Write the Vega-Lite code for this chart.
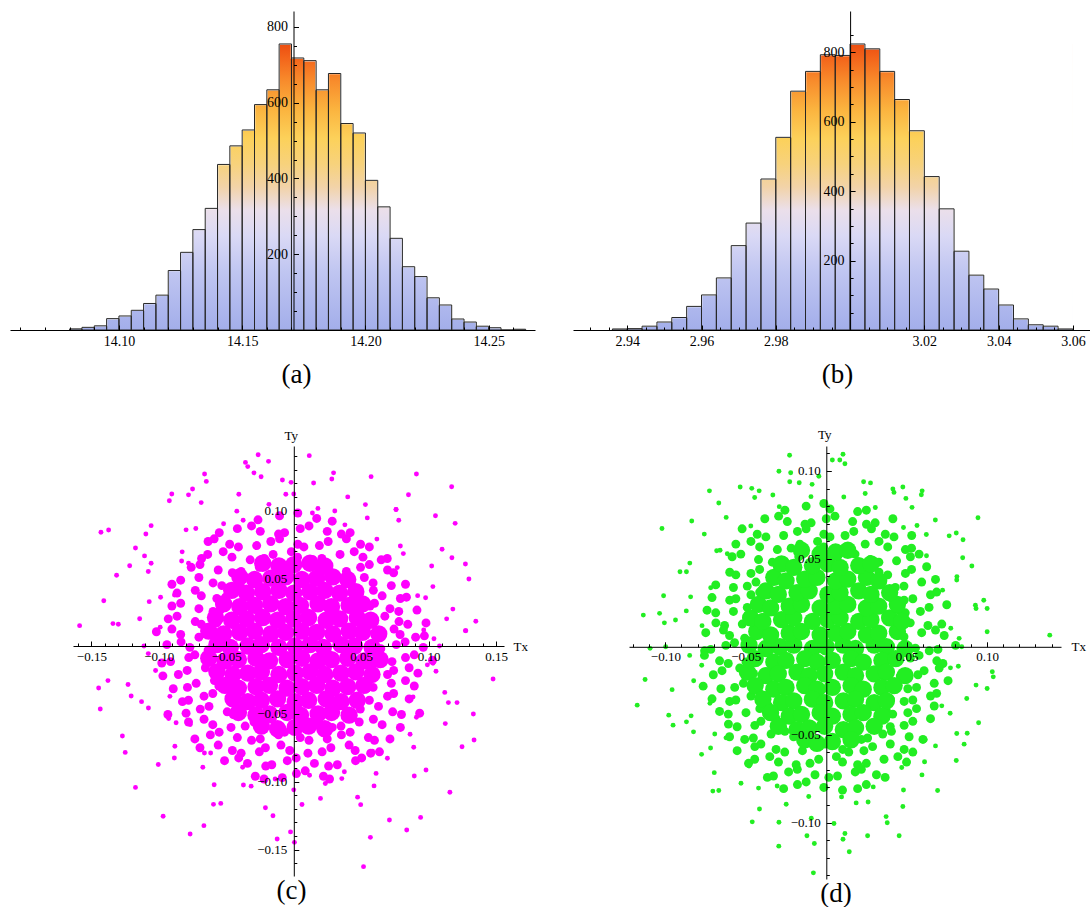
{
"$schema":"https://vega.github.io/schema/vega-lite/v6.json",
"background":"white",
"padding":{"left":10,"top":10,"right":0,"bottom":0},
"autosize":{"type":"pad"},
"config":{"view":{"stroke":null},
"axis":{"grid":false,"labelFont":"Liberation Serif","labelColor":"#000","domainColor":"#000","tickColor":"#000","domainWidth":1,"tickWidth":1,"titleFont":"Liberation Serif","titleFontWeight":"normal","titleColor":"#000","labelFlush":false,"labelOverlap":false},
"title":{"font":"Liberation Serif","fontSize":27,"fontWeight":"normal","color":"#000"}},
"datasets":{
"ha":[{"lo":14.08,"hi":14.085,"count":3},{"lo":14.085,"hi":14.09,"count":7},{"lo":14.09,"hi":14.095,"count":11},{"lo":14.095,"hi":14.1,"count":30},{"lo":14.1,"hi":14.105,"count":37},{"lo":14.105,"hi":14.11,"count":52},{"lo":14.11,"hi":14.115,"count":70},{"lo":14.115,"hi":14.12,"count":92},{"lo":14.12,"hi":14.125,"count":157},{"lo":14.125,"hi":14.13,"count":205},{"lo":14.13,"hi":14.135,"count":265},{"lo":14.135,"hi":14.14,"count":321},{"lo":14.14,"hi":14.145,"count":437},{"lo":14.145,"hi":14.15,"count":486},{"lo":14.15,"hi":14.155,"count":528},{"lo":14.155,"hi":14.16,"count":595},{"lo":14.16,"hi":14.165,"count":634},{"lo":14.165,"hi":14.17,"count":755},{"lo":14.17,"hi":14.175,"count":718},{"lo":14.175,"hi":14.18,"count":711},{"lo":14.18,"hi":14.185,"count":634},{"lo":14.185,"hi":14.19,"count":677},{"lo":14.19,"hi":14.195,"count":545},{"lo":14.195,"hi":14.2,"count":520},{"lo":14.2,"hi":14.205,"count":395},{"lo":14.205,"hi":14.21,"count":325},{"lo":14.21,"hi":14.215,"count":242},{"lo":14.215,"hi":14.22,"count":167},{"lo":14.22,"hi":14.225,"count":141},{"lo":14.225,"hi":14.23,"count":85},{"lo":14.23,"hi":14.235,"count":66},{"lo":14.235,"hi":14.24,"count":29},{"lo":14.24,"hi":14.245,"count":21},{"lo":14.245,"hi":14.25,"count":10},{"lo":14.25,"hi":14.255,"count":6},{"lo":14.255,"hi":14.26,"count":0},{"lo":14.26,"hi":14.265,"count":2}],
"hb":[{"lo":2.936,"hi":2.94,"count":3},{"lo":2.94,"hi":2.944,"count":4},{"lo":2.944,"hi":2.948,"count":11},{"lo":2.948,"hi":2.952,"count":23},{"lo":2.952,"hi":2.956,"count":36},{"lo":2.956,"hi":2.96,"count":68},{"lo":2.96,"hi":2.964,"count":101},{"lo":2.964,"hi":2.968,"count":150},{"lo":2.968,"hi":2.972,"count":243},{"lo":2.972,"hi":2.976,"count":308},{"lo":2.976,"hi":2.98,"count":435},{"lo":2.98,"hi":2.984,"count":555},{"lo":2.984,"hi":2.988,"count":688},{"lo":2.988,"hi":2.992,"count":745},{"lo":2.992,"hi":2.996,"count":793},{"lo":2.996,"hi":3.0,"count":791},{"lo":3.0,"hi":3.004,"count":824},{"lo":3.004,"hi":3.008,"count":810},{"lo":3.008,"hi":3.012,"count":745},{"lo":3.012,"hi":3.016,"count":664},{"lo":3.016,"hi":3.02,"count":574},{"lo":3.02,"hi":3.024,"count":442},{"lo":3.024,"hi":3.028,"count":349},{"lo":3.028,"hi":3.032,"count":227},{"lo":3.032,"hi":3.036,"count":158},{"lo":3.036,"hi":3.04,"count":118},{"lo":3.04,"hi":3.044,"count":72},{"lo":3.044,"hi":3.048,"count":32},{"lo":3.048,"hi":3.052,"count":15},{"lo":3.052,"hi":3.056,"count":11},{"lo":3.056,"hi":3.06,"count":3}],
"cc":[{"x":-0.023,"y":0.061},{"x":-0.011,"y":0.059},{"x":0,"y":0.06},{"x":0.012,"y":0.061},{"x":0.023,"y":0.059},
{"x":-0.04,"y":0.051},{"x":-0.029,"y":0.049},{"x":-0.017,"y":0.05},{"x":-0.006,"y":0.051},{"x":0.006,"y":0.049},{"x":0.017,"y":0.05},{"x":0.029,"y":0.051},{"x":0.04,"y":0.049},
{"x":-0.046,"y":0.041},{"x":-0.035,"y":0.039},{"x":-0.023,"y":0.04},{"x":-0.011,"y":0.041},{"x":0,"y":0.039},{"x":0.012,"y":0.04},{"x":0.023,"y":0.041},{"x":0.034,"y":0.039},{"x":0.046,"y":0.04},
{"x":-0.052,"y":0.031},{"x":-0.04,"y":0.029},{"x":-0.029,"y":0.03},{"x":-0.017,"y":0.031},{"x":-0.006,"y":0.029},{"x":0.005,"y":0.03},{"x":0.018,"y":0.031},{"x":0.028,"y":0.029},{"x":0.041,"y":0.03},{"x":0.051,"y":0.031},
{"x":-0.058,"y":0.021},{"x":-0.046,"y":0.019},{"x":-0.035,"y":0.02},{"x":-0.023,"y":0.021},{"x":-0.012,"y":0.019},{"x":0,"y":0.02},{"x":0.011,"y":0.021},{"x":0.024,"y":0.019},{"x":0.034,"y":0.02},{"x":0.047,"y":0.021},{"x":0.057,"y":0.019},
{"x":-0.063,"y":0.011},{"x":-0.052,"y":0.009},{"x":-0.04,"y":0.01},{"x":-0.029,"y":0.011},{"x":-0.017,"y":0.009},{"x":-0.006,"y":0.01},{"x":0.006,"y":0.011},{"x":0.017,"y":0.01},{"x":0.029,"y":0.009},{"x":0.041,"y":0.011},{"x":0.051,"y":0.01},{"x":0.063,"y":0.009},
{"x":-0.057,"y":0.001},{"x":-0.047,"y":-0.001},{"x":-0.034,"y":0},{"x":-0.024,"y":0.001},{"x":-0.011,"y":-0.001},{"x":0.001,"y":0},{"x":0.012,"y":0.001},{"x":0.022,"y":-0.001},{"x":0.035,"y":0.001},{"x":0.045,"y":0},{"x":0.058,"y":-0.001},
{"x":-0.063,"y":-0.009},{"x":-0.051,"y":-0.011},{"x":-0.041,"y":-0.01},{"x":-0.028,"y":-0.009},{"x":-0.018,"y":-0.011},{"x":-0.005,"y":-0.01},{"x":0.006,"y":-0.009},{"x":0.018,"y":-0.011},{"x":0.028,"y":-0.01},{"x":0.04,"y":-0.009},{"x":0.052,"y":-0.011},{"x":0.064,"y":-0.01},
{"x":-0.057,"y":-0.019},{"x":-0.045,"y":-0.021},{"x":-0.034,"y":-0.02},{"x":-0.024,"y":-0.019},{"x":-0.011,"y":-0.021},{"x":0.001,"y":-0.02},{"x":0.012,"y":-0.019},{"x":0.023,"y":-0.021},{"x":0.035,"y":-0.02},{"x":0.046,"y":-0.019},{"x":0.058,"y":-0.021},
{"x":-0.051,"y":-0.029},{"x":-0.041,"y":-0.031},{"x":-0.028,"y":-0.03},{"x":-0.018,"y":-0.029},{"x":-0.005,"y":-0.031},{"x":0.006,"y":-0.03},{"x":0.017,"y":-0.029},{"x":0.029,"y":-0.031},{"x":0.04,"y":-0.03},{"x":0.052,"y":-0.029},
{"x":-0.045,"y":-0.039},{"x":-0.034,"y":-0.041},{"x":-0.024,"y":-0.04},{"x":-0.012,"y":-0.039},{"x":0.001,"y":-0.041},{"x":0.011,"y":-0.04},{"x":0.024,"y":-0.039},{"x":0.035,"y":-0.041},{"x":0.047,"y":-0.04},
{"x":-0.041,"y":-0.049},{"x":-0.028,"y":-0.051},{"x":-0.018,"y":-0.05},{"x":-0.005,"y":-0.049},{"x":0.005,"y":-0.051},{"x":0.018,"y":-0.05},{"x":0.028,"y":-0.049},{"x":0.041,"y":-0.051},
{"x":-0.024,"y":-0.059},{"x":-0.012,"y":-0.061},{"x":0.001,"y":-0.06},{"x":0.011,"y":-0.059},{"x":0.023,"y":-0.061}],
"cm":[{"x":-0.0265,"y":0.093},{"x":-0.0105,"y":0.096},{"x":0.003,"y":0.098},{"x":0.017,"y":0.094},{"x":0.0285,"y":0.092},
{"x":-0.0552,"y":0.0835},{"x":-0.0418,"y":0.0865},{"x":-0.0313,"y":0.0885},{"x":-0.0248,"y":0.0845},{"x":-0.0113,"y":0.0825},{"x":-0.0068,"y":0.0835},{"x":0.0048,"y":0.0865},{"x":0.0113,"y":0.0885},{"x":0.0248,"y":0.0845},{"x":0.0353,"y":0.0825},{"x":0.0418,"y":0.0835},
{"x":-0.0635,"y":0.077},{"x":-0.059,"y":0.079},{"x":-0.0475,"y":0.075},{"x":-0.041,"y":0.073},{"x":-0.0275,"y":0.074},{"x":-0.017,"y":0.077},{"x":-0.0105,"y":0.079},{"x":0.003,"y":0.075},{"x":0.0075,"y":0.073},{"x":0.019,"y":0.074},{"x":0.0255,"y":0.077},{"x":0.039,"y":0.079},{"x":0.0495,"y":0.075},{"x":0.056,"y":0.073},
{"x":-0.0683,"y":0.0645},{"x":-0.0638,"y":0.0675},{"x":-0.0523,"y":0.0695},{"x":-0.0458,"y":0.0655},{"x":-0.0323,"y":0.0635},{"x":-0.0218,"y":0.0645},{"x":-0.0153,"y":0.0675},{"x":-0.0018,"y":0.0695},{"x":0.0028,"y":0.0655},{"x":0.0143,"y":0.0635},{"x":0.0208,"y":0.0645},{"x":0.0343,"y":0.0675},{"x":0.0448,"y":0.0695},{"x":0.0513,"y":0.0655},{"x":0.0648,"y":0.0635},{"x":0.0693,"y":0.0645},
{"x":-0.076,"y":0.058},{"x":-0.0695,"y":0.06},{"x":-0.056,"y":0.056},{"x":-0.0455,"y":0.054},{"x":-0.039,"y":0.055},{"x":-0.0255,"y":0.058},{"x":-0.021,"y":0.06},{"x":0.019,"y":0.056},{"x":0.0255,"y":0.054},{"x":0.039,"y":0.055},{"x":0.0495,"y":0.058},{"x":0.056,"y":0.06},{"x":0.0695,"y":0.056},{"x":0.074,"y":0.054},
{"x":-0.0903,"y":0.0455},{"x":-0.0838,"y":0.0485},{"x":-0.0703,"y":0.0505},{"x":-0.0598,"y":0.0465},{"x":-0.0533,"y":0.0445},{"x":-0.0398,"y":0.0455},{"x":0.0408,"y":0.0485},{"x":0.0523,"y":0.0505},{"x":0.0588,"y":0.0465},{"x":0.0723,"y":0.0445},{"x":0.0828,"y":0.0455},
{"x":-0.0865,"y":0.039},{"x":-0.073,"y":0.041},{"x":-0.0685,"y":0.037},{"x":-0.057,"y":0.035},{"x":-0.0505,"y":0.036},{"x":0.0485,"y":0.039},{"x":0.059,"y":0.041},{"x":0.0655,"y":0.037},{"x":0.079,"y":0.035},{"x":0.0835,"y":0.036},
{"x":-0.0903,"y":0.0295},{"x":-0.0838,"y":0.0315},{"x":-0.0703,"y":0.0275},{"x":-0.0598,"y":0.0255},{"x":-0.0545,"y":0.0265},{"x":0.0565,"y":0.0295},{"x":0.0598,"y":0.0315},{"x":0.0713,"y":0.0275},{"x":0.0778,"y":0.0255},{"x":0.0913,"y":0.0265},
{"x":-0.093,"y":0.02},{"x":-0.0865,"y":0.022},{"x":-0.073,"y":0.018},{"x":-0.0685,"y":0.016},{"x":-0.057,"y":0.017},{"x":0.054,"y":0.02},{"x":0.0675,"y":0.022},{"x":0.078,"y":0.018},{"x":0.0845,"y":0.016},{"x":0.098,"y":0.017},
{"x":-0.1018,"y":0.0105},{"x":-0.0903,"y":0.0125},{"x":-0.0838,"y":0.0085},{"x":-0.0703,"y":0.0065},{"x":-0.0598,"y":0.0075},{"x":0.0608,"y":0.0105},{"x":0.0743,"y":0.0125},{"x":0.0788,"y":0.0085},{"x":0.0903,"y":0.0065},{"x":0.0968,"y":0.0075},
{"x":-0.094,"y":0.001},{"x":-0.0835,"y":0.003},{"x":-0.077,"y":-0.001},{"x":-0.0635,"y":-0.003},{"x":0.0645,"y":-0.002},{"x":0.076,"y":0.001},{"x":0.0825,"y":0.003},{"x":0.096,"y":-0.001},
{"x":-0.0978,"y":-0.0125},{"x":-0.0913,"y":-0.0115},{"x":-0.0778,"y":-0.0085},{"x":-0.0733,"y":-0.0065},{"x":-0.0618,"y":-0.0105},{"x":0.0588,"y":-0.0125},{"x":0.0728,"y":-0.0115},{"x":0.0828,"y":-0.0085},{"x":0.0893,"y":-0.0065},{"x":0.1028,"y":-0.0105},
{"x":-0.097,"y":-0.022},{"x":-0.0855,"y":-0.021},{"x":-0.079,"y":-0.018},{"x":-0.0655,"y":-0.016},{"x":-0.055,"y":-0.02},{"x":0.056,"y":-0.022},{"x":0.0695,"y":-0.021},{"x":0.074,"y":-0.018},{"x":0.0855,"y":-0.016},{"x":0.092,"y":-0.02},
{"x":-0.0893,"y":-0.0315},{"x":-0.0788,"y":-0.0305},{"x":-0.0723,"y":-0.0275},{"x":-0.0588,"y":-0.0255},{"x":-0.0555,"y":-0.0295},{"x":0.0535,"y":-0.0315},{"x":0.0588,"y":-0.0305},{"x":0.0723,"y":-0.0275},{"x":0.0828,"y":-0.0255},{"x":0.0893,"y":-0.0295},
{"x":-0.0825,"y":-0.041},{"x":-0.078,"y":-0.04},{"x":-0.0665,"y":-0.037},{"x":-0.06,"y":-0.035},{"x":-0.0465,"y":-0.039},{"x":0.0495,"y":-0.041},{"x":0.056,"y":-0.04},{"x":0.0695,"y":-0.037},{"x":0.074,"y":-0.035},{"x":0.0855,"y":-0.039},
{"x":-0.0933,"y":-0.0505},{"x":-0.0798,"y":-0.0495},{"x":-0.0693,"y":-0.0465},{"x":-0.0628,"y":-0.0445},{"x":-0.0493,"y":-0.0485},{"x":-0.0448,"y":-0.0505},{"x":0.0428,"y":-0.0495},{"x":0.0493,"y":-0.0465},{"x":0.0628,"y":-0.0445},{"x":0.0733,"y":-0.0485},{"x":0.0798,"y":-0.0505},{"x":0.0933,"y":-0.0495},
{"x":-0.078,"y":-0.056},{"x":-0.0665,"y":-0.054},{"x":-0.06,"y":-0.058},{"x":-0.0465,"y":-0.06},{"x":-0.036,"y":-0.059},{"x":-0.0295,"y":-0.056},{"x":-0.016,"y":-0.054},{"x":0.017,"y":-0.058},{"x":0.0285,"y":-0.06},{"x":0.035,"y":-0.059},{"x":0.0485,"y":-0.056},{"x":0.059,"y":-0.054},{"x":0.0655,"y":-0.058},{"x":0.079,"y":-0.06},
{"x":-0.0733,"y":-0.0685},{"x":-0.0618,"y":-0.0655},{"x":-0.0553,"y":-0.0635},{"x":-0.0418,"y":-0.0675},{"x":-0.0313,"y":-0.0695},{"x":-0.0248,"y":-0.0685},{"x":-0.0113,"y":-0.0655},{"x":-0.0068,"y":-0.0635},{"x":0.0048,"y":-0.0675},{"x":0.0113,"y":-0.0695},{"x":0.0248,"y":-0.0685},{"x":0.0353,"y":-0.0655},{"x":0.0418,"y":-0.0635},{"x":0.0553,"y":-0.0675},{"x":0.0598,"y":-0.0695},{"x":0.0713,"y":-0.0685},
{"x":-0.0695,"y":-0.075},{"x":-0.056,"y":-0.073},{"x":-0.0455,"y":-0.077},{"x":-0.039,"y":-0.079},{"x":-0.0255,"y":-0.078},{"x":-0.021,"y":-0.075},{"x":-0.0095,"y":-0.073},{"x":-0.003,"y":-0.077},{"x":0.0105,"y":-0.079},{"x":0.021,"y":-0.078},{"x":0.0275,"y":-0.075},{"x":0.041,"y":-0.073},{"x":0.0455,"y":-0.077},{"x":0.057,"y":-0.079},{"x":0.0635,"y":-0.078},
{"x":-0.0513,"y":-0.0845},{"x":-0.0408,"y":-0.0825},{"x":-0.0343,"y":-0.0865},{"x":-0.0208,"y":-0.0885},{"x":-0.0163,"y":-0.0875},{"x":-0.0048,"y":-0.0845},{"x":0.0018,"y":-0.0825},{"x":0.0153,"y":-0.0865},{"x":0.0258,"y":-0.0885},{"x":0.0323,"y":-0.0875},{"x":0.0458,"y":-0.0845},{"x":0.0503,"y":-0.0825},
{"x":-0.0285,"y":-0.096},{"x":-0.022,"y":-0.098},{"x":-0.0085,"y":-0.097},{"x":0.002,"y":-0.094},{"x":0.0085,"y":-0.092},{"x":0.022,"y":-0.096},{"x":0.0265,"y":-0.098}],
"co":[{"x":-0.1587,"y":0.015},{"x":-0.1429,"y":0.0838},{"x":-0.1372,"y":0.0855},{"x":-0.1408,"y":0.0334},{"x":-0.1313,"y":0.0521},{"x":-0.1446,"y":-0.031},{"x":-0.1434,"y":-0.0464},{"x":-0.1377,"y":-0.0255},{"x":-0.127,"y":-0.0663},{"x":-0.1249,"y":-0.0784},{"x":-0.1173,"y":-0.1042},{"x":-0.0968,"y":-0.1255},{"x":-0.0768,"y":-0.1385},{"x":-0.0666,"y":-0.1324},{"x":-0.0123,"y":-0.1422},{"x":0.0005,"y":-0.1447},{"x":0.0517,"y":-0.1626},{"x":0.0568,"y":-0.141},{"x":0.0709,"y":-0.1282},{"x":0.0837,"y":-0.1356},{"x":0.094,"y":-0.1263},{"x":0.1157,"y":-0.1078},{"x":0.1247,"y":-0.0742},{"x":0.1336,"y":-0.0693},{"x":0.1331,"y":-0.0501},{"x":0.1477,"y":-0.0243},{"x":0.1349,"y":0.0182},{"x":0.1272,"y":0.0113},{"x":0.1298,"y":0.0494},{"x":0.1272,"y":0.0604},{"x":0.1196,"y":0.0904},{"x":0.117,"y":0.1174},{"x":0.105,"y":0.096},{"x":0.0909,"y":0.1268},{"x":0.085,"y":0.1115},{"x":0.0573,"y":0.1248},{"x":0.0282,"y":0.1231},{"x":0.0115,"y":0.1403},{"x":-0.0264,"y":0.141},{"x":-0.0187,"y":0.1361},{"x":-0.0358,"y":0.1353},{"x":-0.0341,"y":0.1322},{"x":-0.0661,"y":0.1268},{"x":-0.0648,"y":0.1213},{"x":-0.0904,"y":0.112},{"x":-0.075,"y":0.1157},{"x":-0.1096,"y":0.0825},{"x":-0.1173,"y":0.0722},{"x":-0.1216,"y":0.0592},{"x":-0.1057,"y":0.0887},{"x":-0.0922,"y":0.1071},{"x":-0.0084,"y":0.1223},{"x":-0.002,"y":0.1206},
{"x":0.108,"y":0},{"x":0.1133,"y":0.02},{"x":0.0977,"y":0.0356},{"x":0.1022,"y":0.059},{"x":0.0812,"y":0.0681},{"x":0.0778,"y":0.0927},{"x":0.0545,"y":0.0944},{"x":0.04,"y":0.1099},{"x":0.0179,"y":0.1014},{"x":0,"y":0.112},{"x":-0.0184,"y":0.1044},{"x":-0.0407,"y":0.1118},{"x":-0.052,"y":0.0901},{"x":-0.0726,"y":0.0866},{"x":-0.0827,"y":0.0694},{"x":-0.1057,"y":0.061},{"x":-0.0987,"y":0.0359},{"x":-0.1142,"y":0.0201},{"x":-0.111,"y":0},{"x":-0.1024,"y":-0.0181},{"x":-0.1128,"y":-0.041},{"x":-0.0927,"y":-0.0535},{"x":-0.0881,"y":-0.0739},{"x":-0.0662,"y":-0.0789},{"x":-0.059,"y":-0.1022},{"x":-0.0373,"y":-0.1024},{"x":-0.021,"y":-0.1192},{"x":0,"y":-0.106},{"x":0.0198,"y":-0.1123},{"x":0.0356,"y":-0.0977},{"x":0.0595,"y":-0.1031},{"x":0.0694,"y":-0.0827},{"x":0.0889,"y":-0.0746},{"x":0.0909,"y":-0.0525},{"x":0.1146,"y":-0.0417},{"x":0.1054,"y":-0.0186},
{"x":0.1275,"y":0.0112},{"x":0.1172,"y":0.065},{"x":0.0758,"y":0.1006},{"x":0.0295,"y":0.1276},{"x":-0.0242,"y":0.1247},{"x":-0.078,"y":0.1114},{"x":-0.1106,"y":0.0664},{"x":-0.134,"y":0.0165},{"x":-0.1205,"y":-0.0368},{"x":-0.1004,"y":-0.0873},{"x":-0.0541,"y":-0.116},{"x":-0.0024,"y":-0.137},{"x":0.0496,"y":-0.1169},{"x":0.098,"y":-0.0914},{"x":0.121,"y":-0.0417},
{"x":0.0963,"y":0.0118},{"x":0.0918,"y":0.0371},{"x":0.0767,"y":0.0578},{"x":0.0616,"y":0.0788},{"x":0.0379,"y":0.0893},{"x":0.0138,"y":0.098},{"x":-0.0117,"y":0.0953},{"x":-0.0375,"y":0.0927},{"x":-0.0584,"y":0.0775},{"x":-0.078,"y":0.061},{"x":-0.0884,"y":0.0375},{"x":-0.099,"y":0.0139},{"x":-0.0963,"y":-0.0118},{"x":-0.0918,"y":-0.0371},{"x":-0.0767,"y":-0.0578},{"x":-0.0616,"y":-0.0788},{"x":-0.0379,"y":-0.0893},{"x":-0.0138,"y":-0.098},{"x":0.0117,"y":-0.0953},{"x":0.0375,"y":-0.0927},{"x":0.0584,"y":-0.0775},{"x":0.078,"y":-0.061},{"x":0.0884,"y":-0.0375},{"x":0.099,"y":-0.0139},
{"x":0.1039,"y":0.0054},{"x":0.1179,"y":0.0272},{"x":0.1031,"y":0.0438},{"x":0.1099,"y":0.0713},{"x":0.079,"y":0.0737},{"x":0.0758,"y":0.1006},{"x":0.0531,"y":0.1042},{"x":0.0304,"y":0.0995},{"x":0.0147,"y":0.1201},{"x":-0.0059,"y":0.1118},{"x":-0.0295,"y":0.1276},{"x":-0.0422,"y":0.0994},{"x":-0.0686,"y":0.1057},{"x":-0.0798,"y":0.0856},{"x":-0.0831,"y":0.0626},{"x":-0.1078,"y":0.0549},{"x":-0.1071,"y":0.0327},{"x":-0.13,"y":0.016},{"x":-0.1078,"y":-0.0056},{"x":-0.1228,"y":-0.0284},{"x":-0.1077,"y":-0.0457},{"x":-0.0872,"y":-0.0566},{"x":-0.0885,"y":-0.0825},{"x":-0.0674,"y":-0.0894},{"x":-0.0595,"y":-0.1167},{"x":-0.0316,"y":-0.1033},{"x":-0.0154,"y":-0.1251},{"x":0.0061,"y":-0.1168},{"x":0.0234,"y":-0.1013},{"x":0.0473,"y":-0.1114},{"x":0.061,"y":-0.0939},{"x":0.0893,"y":-0.0958},{"x":0.0862,"y":-0.065},{"x":0.1123,"y":-0.0572},{"x":0.1119,"y":-0.0342},{"x":0.1032,"y":-0.0127}],
"dc":[{"x":-0.048,"y":0.001},{"x":-0.0374,"y":-0.001},{"x":-0.0288,"y":0},{"x":-0.0202,"y":0.001},{"x":-0.0086,"y":-0.001},{"x":0,"y":0},{"x":0.0106,"y":0.001},{"x":0.0182,"y":-0.001},{"x":0.0298,"y":0.001},{"x":0.0374,"y":0},{"x":0.049,"y":-0.001},
{"x":-0.0432,"y":0.0087},{"x":-0.0346,"y":0.0067},{"x":-0.023,"y":0.0077},{"x":-0.0154,"y":0.0087},{"x":-0.0038,"y":0.0067},{"x":0.0058,"y":0.0077},{"x":0.0134,"y":0.0087},{"x":0.025,"y":0.0067},{"x":0.0326,"y":0.0077},{"x":0.0442,"y":0.0087},
{"x":-0.0442,"y":-0.0067},{"x":-0.0326,"y":-0.0087},{"x":-0.025,"y":-0.0077},{"x":-0.0134,"y":-0.0067},{"x":-0.0058,"y":-0.0087},{"x":0.0038,"y":-0.0077},{"x":0.0154,"y":-0.0067},{"x":0.023,"y":-0.0087},{"x":0.0346,"y":-0.0077},{"x":0.0432,"y":-0.0067},
{"x":-0.047,"y":0.0164},{"x":-0.0394,"y":0.0144},{"x":-0.0278,"y":0.0154},{"x":-0.0202,"y":0.0164},{"x":-0.0086,"y":0.0144},{"x":0.001,"y":0.0154},{"x":0.0086,"y":0.0164},{"x":0.0202,"y":0.0144},{"x":0.0278,"y":0.0154},{"x":0.0394,"y":0.0164},{"x":0.047,"y":0.0144},
{"x":-0.049,"y":-0.0144},{"x":-0.0374,"y":-0.0164},{"x":-0.0298,"y":-0.0154},{"x":-0.0182,"y":-0.0144},{"x":-0.0106,"y":-0.0164},{"x":-0.001,"y":-0.0154},{"x":0.0106,"y":-0.0144},{"x":0.0182,"y":-0.0164},{"x":0.0298,"y":-0.0154},{"x":0.0374,"y":-0.0144},{"x":0.049,"y":-0.0164},
{"x":-0.0422,"y":0.0241},{"x":-0.0346,"y":0.0221},{"x":-0.023,"y":0.0231},{"x":-0.0154,"y":0.0241},{"x":-0.0038,"y":0.0221},{"x":0.0058,"y":0.0231},{"x":0.0134,"y":0.0241},{"x":0.025,"y":0.0221},{"x":0.0326,"y":0.0231},{"x":0.0442,"y":0.0241},
{"x":-0.0442,"y":-0.0221},{"x":-0.0326,"y":-0.0241},{"x":-0.025,"y":-0.0231},{"x":-0.0134,"y":-0.0221},{"x":-0.0058,"y":-0.0241},{"x":0.0038,"y":-0.0231},{"x":0.0154,"y":-0.0221},{"x":0.023,"y":-0.0241},{"x":0.0346,"y":-0.0231},{"x":0.0422,"y":-0.0221},
{"x":-0.0374,"y":0.0318},{"x":-0.0298,"y":0.0298},{"x":-0.0182,"y":0.0308},{"x":-0.0106,"y":0.0318},{"x":0.001,"y":0.0298},{"x":0.0086,"y":0.0308},{"x":0.0202,"y":0.0318},{"x":0.0278,"y":0.0298},{"x":0.0394,"y":0.0308},
{"x":-0.0394,"y":-0.0298},{"x":-0.0278,"y":-0.0318},{"x":-0.0202,"y":-0.0308},{"x":-0.0086,"y":-0.0298},{"x":-0.001,"y":-0.0318},{"x":0.0106,"y":-0.0308},{"x":0.0182,"y":-0.0298},{"x":0.0298,"y":-0.0318},{"x":0.0374,"y":-0.0308},
{"x":-0.0326,"y":0.0395},{"x":-0.025,"y":0.0375},{"x":-0.0134,"y":0.0385},{"x":-0.0058,"y":0.0395},{"x":0.0058,"y":0.0375},{"x":0.0134,"y":0.0385},{"x":0.025,"y":0.0395},{"x":0.0326,"y":0.0375},
{"x":-0.0346,"y":-0.0375},{"x":-0.023,"y":-0.0395},{"x":-0.0154,"y":-0.0385},{"x":-0.0038,"y":-0.0375},{"x":0.0038,"y":-0.0395},{"x":0.0154,"y":-0.0385},{"x":0.023,"y":-0.0375},{"x":0.0346,"y":-0.0395},
{"x":-0.0278,"y":0.0472},{"x":-0.0202,"y":0.0452},{"x":-0.0086,"y":0.0462},{"x":0.001,"y":0.0472},{"x":0.0086,"y":0.0452},{"x":0.0202,"y":0.0462},{"x":0.0278,"y":0.0472},
{"x":-0.0298,"y":-0.0452},{"x":-0.0182,"y":-0.0472},{"x":-0.0106,"y":-0.0462},{"x":-0.001,"y":-0.0452},{"x":0.0106,"y":-0.0472},{"x":0.0182,"y":-0.0462},{"x":0.0298,"y":-0.0452},
{"x":-0.0154,"y":0.0549},{"x":-0.0038,"y":0.0529},{"x":0.0058,"y":0.0539},{"x":0.0134,"y":0.0549},
{"x":-0.0134,"y":-0.0529},{"x":-0.0058,"y":-0.0549},{"x":0.0038,"y":-0.0539},{"x":0.0154,"y":-0.0529}],
"dm":[{"x":-0.0257,"y":0.0777},{"x":-0.0125,"y":0.08},{"x":-0.0015,"y":0.0815},{"x":0.0023,"y":0.0784},{"x":0.0195,"y":0.0769},{"x":0.0249,"y":0.0777},
{"x":-0.0382,"y":0.0728},{"x":-0.0296,"y":0.0743},{"x":-0.0242,"y":0.0712},{"x":-0.0132,"y":0.0697},{"x":-0.0094,"y":0.0705},{"x":0,"y":0.0728},{"x":0.0054,"y":0.0743},{"x":0.0164,"y":0.0712},{"x":0.025,"y":0.0697},{"x":0.0304,"y":0.0705},{"x":0.0414,"y":0.0728},
{"x":-0.0523,"y":0.0671},{"x":-0.0429,"y":0.064},{"x":-0.0375,"y":0.0625},{"x":-0.0265,"y":0.0633},{"x":-0.0179,"y":0.0656},{"x":-0.0125,"y":0.0671},{"x":-0.0015,"y":0.064},{"x":0.0023,"y":0.0625},{"x":0.0117,"y":0.0633},{"x":0.0171,"y":0.0656},{"x":0.0281,"y":0.0671},{"x":0.0367,"y":0.064},{"x":0.0421,"y":0.0625},{"x":0.0531,"y":0.0633},
{"x":-0.0562,"y":0.0584},{"x":-0.0468,"y":0.0599},{"x":-0.0414,"y":0.0568},{"x":-0.0304,"y":0.0553},{"x":-0.0218,"y":0.0561},{"x":-0.0164,"y":0.0584},{"x":-0.0054,"y":0.0599},{"x":-0.0016,"y":0.0568},{"x":0.0078,"y":0.0553},{"x":0.0132,"y":0.0561},{"x":0.0242,"y":0.0584},{"x":0.0328,"y":0.0599},{"x":0.0382,"y":0.0568},{"x":0.0492,"y":0.0553},{"x":0.053,"y":0.0561},
{"x":-0.0585,"y":0.0512},{"x":-0.0531,"y":0.0527},{"x":-0.0421,"y":0.0496},{"x":-0.0335,"y":0.0481},{"x":-0.0281,"y":0.0489},{"x":-0.0171,"y":0.0512},{"x":0.0179,"y":0.0527},{"x":0.0273,"y":0.0496},{"x":0.0327,"y":0.0481},{"x":0.0437,"y":0.0489},{"x":0.0523,"y":0.0512},{"x":0.0577,"y":0.0527},
{"x":-0.06,"y":0.0424},{"x":-0.0562,"y":0.0409},{"x":-0.0468,"y":0.0417},{"x":-0.0414,"y":0.044},{"x":-0.0304,"y":0.0455},{"x":0.0328,"y":0.0424},{"x":0.0382,"y":0.0409},{"x":0.0492,"y":0.0417},{"x":0.053,"y":0.044},{"x":0.0624,"y":0.0455},
{"x":-0.0687,"y":0.0352},{"x":-0.0577,"y":0.0337},{"x":-0.0491,"y":0.0345},{"x":-0.0437,"y":0.0368},{"x":-0.0327,"y":0.0383},{"x":0.0335,"y":0.0352},{"x":0.0429,"y":0.0337},{"x":0.0483,"y":0.0345},{"x":0.0593,"y":0.0368},{"x":0.0679,"y":0.0383},
{"x":-0.071,"y":0.028},{"x":-0.06,"y":0.0265},{"x":-0.0562,"y":0.0273},{"x":-0.0468,"y":0.0296},{"x":-0.0414,"y":0.0311},{"x":0.0398,"y":0.028},{"x":0.0484,"y":0.0265},{"x":0.0538,"y":0.0273},{"x":0.0648,"y":0.0296},{"x":0.0686,"y":0.0311},
{"x":-0.0741,"y":0.0208},{"x":-0.0687,"y":0.0193},{"x":-0.0577,"y":0.0201},{"x":-0.0491,"y":0.0224},{"x":-0.0437,"y":0.0239},{"x":0.0453,"y":0.0208},{"x":0.0491,"y":0.0193},{"x":0.0585,"y":0.0201},{"x":0.0639,"y":0.0224},{"x":0.0749,"y":0.0239},
{"x":-0.0686,"y":0.0136},{"x":-0.0632,"y":0.0121},{"x":-0.0522,"y":0.0129},{"x":-0.0484,"y":0.0152},{"x":0.0468,"y":0.0167},{"x":0.0522,"y":0.0136},{"x":0.0632,"y":0.0121},{"x":0.0718,"y":0.0129},
{"x":-0.0749,"y":0.008},{"x":-0.0639,"y":0.0095},{"x":-0.0601,"y":0.0064},{"x":-0.0507,"y":0.0049},{"x":0.0483,"y":0.0057},{"x":0.0593,"y":0.008},{"x":0.0679,"y":0.0095},{"x":0.0733,"y":0.0064},
{"x":-0.0756,"y":-0.0023},{"x":-0.0718,"y":-0.0015},{"x":-0.0624,"y":0.0008},{"x":-0.057,"y":0.0023},{"x":0.0554,"y":-0.0008},{"x":0.064,"y":-0.0023},{"x":0.0694,"y":-0.0015},{"x":0.0804,"y":0.0008},
{"x":-0.0757,"y":-0.0049},{"x":-0.0663,"y":-0.008},{"x":-0.0609,"y":-0.0095},{"x":-0.0499,"y":-0.0087},{"x":0.0523,"y":-0.0064},{"x":0.0577,"y":-0.0049},{"x":0.0687,"y":-0.008},{"x":0.0725,"y":-0.0095},
{"x":-0.0702,"y":-0.0159},{"x":-0.0648,"y":-0.0136},{"x":-0.0538,"y":-0.0121},{"x":-0.0452,"y":-0.0152},{"x":0.046,"y":-0.0167},{"x":0.057,"y":-0.0159},{"x":0.0608,"y":-0.0136},{"x":0.0702,"y":-0.0121},
{"x":-0.0765,"y":-0.0224},{"x":-0.0655,"y":-0.0239},{"x":-0.0569,"y":-0.0231},{"x":-0.0515,"y":-0.0208},{"x":-0.0405,"y":-0.0193},{"x":0.0413,"y":-0.0224},{"x":0.0507,"y":-0.0239},{"x":0.0561,"y":-0.0231},{"x":0.0671,"y":-0.0208},{"x":0.0757,"y":-0.0193},
{"x":-0.071,"y":-0.0296},{"x":-0.06,"y":-0.0311},{"x":-0.0562,"y":-0.0303},{"x":-0.0468,"y":-0.028},{"x":-0.0414,"y":-0.0265},{"x":0.0398,"y":-0.0296},{"x":0.0484,"y":-0.0311},{"x":0.0538,"y":-0.0303},{"x":0.0648,"y":-0.028},{"x":0.0686,"y":-0.0265},
{"x":-0.0663,"y":-0.0368},{"x":-0.0609,"y":-0.0383},{"x":-0.0499,"y":-0.0375},{"x":-0.0413,"y":-0.0352},{"x":-0.0359,"y":-0.0337},{"x":0.0375,"y":-0.0368},{"x":0.0413,"y":-0.0383},{"x":0.0507,"y":-0.0375},{"x":0.0561,"y":-0.0352},{"x":0.0671,"y":-0.0337},
{"x":-0.0608,"y":-0.044},{"x":-0.0554,"y":-0.0455},{"x":-0.0444,"y":-0.0447},{"x":-0.0406,"y":-0.0424},{"x":-0.0312,"y":-0.0409},{"x":0.0288,"y":-0.044},{"x":0.0398,"y":-0.0455},{"x":0.0484,"y":-0.0447},{"x":0.0538,"y":-0.0424},{"x":0.0648,"y":-0.0409},
{"x":-0.0601,"y":-0.0512},{"x":-0.0507,"y":-0.0527},{"x":-0.0453,"y":-0.0519},{"x":-0.0343,"y":-0.0496},{"x":-0.0257,"y":-0.0481},{"x":-0.0203,"y":-0.0512},{"x":0.0219,"y":-0.0527},{"x":0.0257,"y":-0.0519},{"x":0.0351,"y":-0.0496},{"x":0.0405,"y":-0.0481},{"x":0.0515,"y":-0.0512},{"x":0.0601,"y":-0.0527},
{"x":-0.0554,"y":-0.0591},{"x":-0.0444,"y":-0.0568},{"x":-0.0406,"y":-0.0553},{"x":-0.0312,"y":-0.0584},{"x":-0.0258,"y":-0.0599},{"x":-0.0148,"y":-0.0591},{"x":-0.0062,"y":-0.0568},{"x":-0.0008,"y":-0.0553},{"x":0.0102,"y":-0.0584},{"x":0.014,"y":-0.0599},{"x":0.0234,"y":-0.0591},{"x":0.0288,"y":-0.0568},{"x":0.0398,"y":-0.0553},{"x":0.0484,"y":-0.0584},{"x":0.0538,"y":-0.0599},
{"x":-0.0483,"y":-0.0663},{"x":-0.0445,"y":-0.064},{"x":-0.0351,"y":-0.0625},{"x":-0.0297,"y":-0.0656},{"x":-0.0187,"y":-0.0671},{"x":-0.0101,"y":-0.0663},{"x":-0.0047,"y":-0.064},{"x":0.0063,"y":-0.0625},{"x":0.0101,"y":-0.0656},{"x":0.0195,"y":-0.0671},{"x":0.0249,"y":-0.0663},{"x":0.0359,"y":-0.064},{"x":0.0445,"y":-0.0625},{"x":0.0499,"y":-0.0656},
{"x":-0.0366,"y":-0.0743},{"x":-0.0328,"y":-0.0735},{"x":-0.0234,"y":-0.0712},{"x":-0.018,"y":-0.0697},{"x":-0.007,"y":-0.0728},{"x":0.0016,"y":-0.0743},{"x":0.007,"y":-0.0735},{"x":0.018,"y":-0.0712},{"x":0.0218,"y":-0.0697},{"x":0.0312,"y":-0.0728},{"x":0.0366,"y":-0.0743},
{"x":-0.0265,"y":-0.0807},{"x":-0.0179,"y":-0.0784},{"x":-0.0125,"y":-0.0769},{"x":-0.0015,"y":-0.08},{"x":0.0101,"y":-0.0815},{"x":0.0195,"y":-0.0807},{"x":0.0249,"y":-0.0784}],
"do":[{"x":0.0038,"y":0.1062},{"x":0.0084,"y":0.1062},{"x":-0.0221,"y":0.099},{"x":-0.0168,"y":0.0933},{"x":-0.0227,"y":0.0939},{"x":-0.0726,"y":0.0887},{"x":-0.0463,"y":0.0901},{"x":-0.0417,"y":0.0887},{"x":0.0232,"y":0.0939},{"x":0.0421,"y":0.0878},{"x":0.0596,"y":0.0887},{"x":0.0495,"y":0.0844},{"x":0.0533,"y":0.0793},{"x":0.0943,"y":0.0734},{"x":0.0764,"y":0.0631},{"x":0.0678,"y":0.0721},{"x":0.0848,"y":0.0506},{"x":0.0905,"y":0.0459},{"x":0.0979,"y":0.0265},{"x":0.1,"y":0.0218},{"x":0.1389,"y":0.0066},{"x":0.1,"y":0.0085},{"x":0.1032,"y":-0.0142},{"x":0.1,"y":-0.0237},{"x":0.0947,"y":-0.0432},{"x":0.0857,"y":-0.0554},{"x":0.0811,"y":-0.0493},{"x":0.0611,"y":-0.0654},{"x":0.0453,"y":-0.1075},{"x":0.0379,"y":-0.1001},{"x":0.0257,"y":-0.1075},{"x":0.0143,"y":-0.1166},{"x":0.0116,"y":-0.1062},{"x":-0.0074,"y":-0.1119},{"x":-0.008,"y":-0.1286},{"x":-0.0295,"y":-0.1134},{"x":-0.0415,"y":-0.0923},{"x":-0.0705,"y":-0.0821},{"x":-0.0775,"y":-0.0612},{"x":-0.0825,"y":-0.0484},{"x":-0.0952,"y":-0.0446},{"x":-0.0979,"y":-0.0389},{"x":-0.1175,"y":-0.0332},{"x":-0.1126,"y":-0.0186},{"x":-0.1095,"y":-0.0009},{"x":-0.1137,"y":0.018},{"x":-0.1036,"y":0.019},{"x":-0.1011,"y":0.029},{"x":-0.1021,"y":0.0673},{"x":-0.0836,"y":0.0715},{"x":-0.0758,"y":0.0641},{"x":-0.0909,"y":0.0427},{"x":-0.0937,"y":0.0152},{"x":0.1038,"y":-0.0171},
{"x":0.0842,"y":0},{"x":0.0931,"y":0.0218},{"x":0.0812,"y":0.0399},{"x":0.0808,"y":0.0647},{"x":0.0564,"y":0.069},{"x":0.0476,"y":0.0909},{"x":0.0275,"y":0.0932},{"x":0.0104,"y":0.1095},{"x":-0.0088,"y":0.0924},{"x":-0.0294,"y":0.0998},{"x":-0.0445,"y":0.0849},{"x":-0.0668,"y":0.0818},{"x":-0.0681,"y":0.0546},{"x":-0.0869,"y":0.0427},{"x":-0.087,"y":0.0204},{"x":-0.0998,"y":0},{"x":-0.0824,"y":-0.0193},{"x":-0.0869,"y":-0.0427},{"x":-0.0719,"y":-0.0576},{"x":-0.0668,"y":-0.0818},{"x":-0.0421,"y":-0.0804},{"x":-0.0294,"y":-0.0998},{"x":-0.0093,"y":-0.0975},{"x":0.0104,"y":-0.1095},{"x":0.026,"y":-0.0883},{"x":0.0476,"y":-0.0909},{"x":0.0595,"y":-0.0729},{"x":0.0808,"y":-0.0647},{"x":0.077,"y":-0.0378},{"x":0.0931,"y":-0.0218},
{"x":0.0774,"y":0.0105},{"x":0.0723,"y":0.0322},{"x":0.0623,"y":0.0518},{"x":0.048,"y":0.0678},{"x":0.0305,"y":0.0792},{"x":0.0109,"y":0.0852},{"x":-0.0095,"y":0.0854},{"x":-0.0292,"y":0.0797},{"x":-0.0469,"y":0.0687},{"x":-0.0615,"y":0.0529},{"x":-0.0718,"y":0.0336},{"x":-0.0772,"y":0.012},{"x":-0.0774,"y":-0.0105},{"x":-0.0723,"y":-0.0322},{"x":-0.0623,"y":-0.0518},{"x":-0.048,"y":-0.0678},{"x":-0.0305,"y":-0.0792},{"x":-0.0109,"y":-0.0852},{"x":0.0095,"y":-0.0854},{"x":0.0292,"y":-0.0797},{"x":0.0469,"y":-0.0687},{"x":0.0615,"y":-0.0529},{"x":0.0718,"y":-0.0336},{"x":0.0772,"y":-0.012},
{"x":0.0826,"y":0.0048},{"x":0.0927,"y":0.0236},{"x":0.0811,"y":0.038},{"x":0.085,"y":0.0609},{"x":0.0622,"y":0.0639},{"x":0.0591,"y":0.0865},{"x":0.0414,"y":0.0897},{"x":0.0242,"y":0.0872},{"x":0.0116,"y":0.1041},{"x":-0.0046,"y":0.097},{"x":-0.0228,"y":0.1089},{"x":-0.0332,"y":0.0863},{"x":-0.0535,"y":0.0909},{"x":-0.0622,"y":0.0736},{"x":-0.066,"y":0.0549},{"x":-0.0848,"y":0.0476},{"x":-0.0843,"y":0.0284},{"x":-0.1006,"y":0.0136},{"x":-0.0849,"y":-0.0049},{"x":-0.0958,"y":-0.0244},{"x":-0.084,"y":-0.0393},{"x":-0.0693,"y":-0.0496},{"x":-0.0696,"y":-0.0716},{"x":-0.053,"y":-0.0776},{"x":-0.046,"y":-0.0996},{"x":-0.0249,"y":-0.0896},{"x":-0.012,"y":-0.1075},{"x":0.0048,"y":-0.1005},{"x":0.0186,"y":-0.0888},{"x":0.0372,"y":-0.0966},{"x":0.048,"y":-0.0815},{"x":0.0692,"y":-0.0818},{"x":0.0679,"y":-0.0564},{"x":0.0876,"y":-0.0492},{"x":0.0873,"y":-0.0294},{"x":0.0821,"y":-0.0111}]
},
"spacing":38,
"bounds":"full",
"hconcat":[
{"vconcat":[
{"width":525,"height":319,"data":{"name":"ha"},
"title":{"text":"(a)","orient":"bottom","frame":"group","anchor":"middle","dx":24,"offset":14},
"layer":[
{"transform":[{"aggregate":[{"op":"min","field":"lo","as":"lo"},{"op":"max","field":"hi","as":"hi"},{"op":"max","field":"count","as":"count"}]}],
"mark":{"type":"rect","fill":{"gradient":"linear","x1":0,"y1":1,"x2":0,"y2":0,"stops":[{"offset":0,"color":"#a3aeea"},{"offset":0.2,"color":"#bfc5f1"},{"offset":0.33,"color":"#dad9f5"},{"offset":0.42,"color":"#ebdfea"},{"offset":0.5,"color":"#f2d3a8"},{"offset":0.58,"color":"#f7d27c"},{"offset":0.67,"color":"#fcd15a"},{"offset":0.77,"color":"#fbb43f"},{"offset":0.87,"color":"#f88c2c"},{"offset":0.95,"color":"#f3651b"},{"offset":1,"color":"#ec4d10"}]}},
"encoding":{"x":{"field":"lo","type":"quantitative","scale":{"domain":[14.0558,14.2688]},"axis":null},"x2":{"field":"hi"},"y":{"field":"count","type":"quantitative","scale":{"domain":[0,842]},"axis":null},"y2":{"datum":0}}},
{"mark":{"type":"rect","fill":"white","stroke":"white","strokeWidth":1.5},
"encoding":{"x":{"field":"lo","type":"quantitative","scale":{"domain":[14.0558,14.2688]},"axis":null},"x2":{"field":"hi"},"y":{"field":"count","type":"quantitative","scale":{"domain":[0,842]},"axis":null},"y2":{"value":0}}},
{"mark":{"type":"rect","fill":"transparent","stroke":"#262626","strokeWidth":1},
"encoding":{"x":{"field":"lo","type":"quantitative","scale":{"domain":[14.0558,14.2688]},"axis":{"orient":"bottom","zindex":1,"values":[14.1,14.15,14.2,14.25],"format":".2f","tickSize":-5,"labelPadding":9,"labelFontSize":14,"title":null}},"x2":{"field":"hi"},"y":{"field":"count","type":"quantitative","scale":{"domain":[0,842]},"axis":{"orient":"left","zindex":1,"offset":-283.5,"values":[200,400,600,800],"tickSize":-5,"labelPadding":11,"labelFontSize":14,"title":null}},"y2":{"datum":0}}},
{"mark":{"type":"point","opacity":0},
"encoding":{"x":{"field":"lo","type":"quantitative","scale":{"domain":[14.0558,14.2688]},"axis":{"orient":"bottom","zindex":1,"values":[14.06,14.07,14.08,14.09,14.11,14.12,14.13,14.14,14.16,14.17,14.18,14.19,14.21,14.22,14.23,14.24,14.26],"labels":false,"domain":false,"tickSize":-3,"title":null}},"y":{"field":"count","type":"quantitative","scale":{"domain":[0,842]},"axis":{"orient":"left","zindex":1,"offset":-283.5,"values":[50,100,150,250,300,350,450,500,550,650,700,750],"labels":false,"domain":false,"tickSize":-3,"title":null}}}}
],
"resolve":{"axis":{"x":"independent","y":"independent"}}},
{"hconcat":[
{"width":63,"height":10,"data":{"values":[]},"mark":{"type":"point","opacity":0}},
{"width":431,"height":430,
"title":{"text":"(c)","orient":"bottom","frame":"group","anchor":"middle","dx":3,"offset":2},
"layer":[
{"data":{"name":"co"},"mark":{"type":"circle","size":24,"color":"#ff00ff","opacity":1},
"encoding":{"x":{"field":"x","type":"quantitative","scale":{"domain":[-0.1636,0.1558]},"axis":{"orient":"bottom","zindex":1,"offset":-230,"values":[-0.15,-0.1,-0.05,0.05,0.1,0.15],"format":".2f","tickSize":-5,"labelPadding":9,"labelFontSize":13,"title":"Tx","titleX":440,"titleY":0,"titleAlign":"left","titleBaseline":"middle","titleFontSize":13,"titleAngle":0}},
"y":{"field":"y","type":"quantitative","scale":{"domain":[-0.1695,0.1474]},"axis":{"orient":"left","zindex":1,"offset":-220.8,"values":[-0.15,-0.1,-0.05,0.05,0.1],"format":".2f","tickSize":-5,"labelPadding":12,"labelFontSize":13,"title":"Ty","titleX":-3,"titleY":-7,"titleAngle":0,"titleAlign":"center","titleBaseline":"alphabetic","titleFontSize":13}}}},
{"data":{"name":"cm"},"mark":{"type":"circle","size":80,"color":"#ff00ff","opacity":1},
"encoding":{"x":{"field":"x","type":"quantitative","scale":{"domain":[-0.1636,0.1558]},"axis":null},"y":{"field":"y","type":"quantitative","scale":{"domain":[-0.1695,0.1474]},"axis":null}}},
{"data":{"name":"cc"},"mark":{"type":"circle","size":300,"color":"#ff00ff","opacity":1},
"encoding":{"x":{"field":"x","type":"quantitative","scale":{"domain":[-0.1636,0.1558]},"axis":null},"y":{"field":"y","type":"quantitative","scale":{"domain":[-0.1695,0.1474]},"axis":null}}},
{"data":{"name":"co"},"mark":{"type":"point","opacity":0},
"encoding":{"x":{"field":"x","type":"quantitative","scale":{"domain":[-0.1636,0.1558]},"axis":{"orient":"bottom","zindex":1,"offset":-230,"values":[-0.16,-0.14,-0.13,-0.12,-0.11,-0.09,-0.08,-0.07,-0.06,-0.04,-0.03,-0.02,-0.01,0.01,0.02,0.03,0.04,0.06,0.07,0.08,0.09,0.11,0.12,0.13,0.14],"labels":false,"domain":false,"tickSize":-3,"title":null}},
"y":{"field":"y","type":"quantitative","scale":{"domain":[-0.1695,0.1474]},"axis":{"orient":"left","zindex":1,"offset":-220.8,"values":[-0.16,-0.14,-0.13,-0.12,-0.11,-0.09,-0.08,-0.07,-0.06,-0.04,-0.03,-0.02,-0.01,0.01,0.02,0.03,0.04,0.06,0.07,0.08,0.09,0.11,0.12,0.13,0.14],"labels":false,"domain":false,"tickSize":-3,"title":null}}}}
],
"resolve":{"axis":{"x":"independent","y":"independent"}}}
],"spacing":0,"bounds":"flush"}
],"spacing":116,"bounds":"flush"},
{"vconcat":[
{"width":517,"height":319,"data":{"name":"hb"},
"title":{"text":"(b)","orient":"bottom","frame":"group","anchor":"middle","dx":6,"offset":14},
"layer":[
{"transform":[{"aggregate":[{"op":"min","field":"lo","as":"lo"},{"op":"max","field":"hi","as":"hi"},{"op":"max","field":"count","as":"count"}]}],
"mark":{"type":"rect","fill":{"gradient":"linear","x1":0,"y1":1,"x2":0,"y2":0,"stops":[{"offset":0,"color":"#a3aeea"},{"offset":0.2,"color":"#bfc5f1"},{"offset":0.33,"color":"#dad9f5"},{"offset":0.42,"color":"#ebdfea"},{"offset":0.5,"color":"#f2d3a8"},{"offset":0.58,"color":"#f7d27c"},{"offset":0.67,"color":"#fcd15a"},{"offset":0.77,"color":"#fbb43f"},{"offset":0.87,"color":"#f88c2c"},{"offset":0.95,"color":"#f3651b"},{"offset":1,"color":"#ec4d10"}]}},
"encoding":{"x":{"field":"lo","type":"quantitative","scale":{"domain":[2.9254,3.0646]},"axis":null},"x2":{"field":"hi"},"y":{"field":"count","type":"quantitative","scale":{"domain":[0,919]},"axis":null},"y2":{"datum":0}}},
{"mark":{"type":"rect","fill":"white","stroke":"white","strokeWidth":1.5},
"encoding":{"x":{"field":"lo","type":"quantitative","scale":{"domain":[2.9254,3.0646]},"axis":null},"x2":{"field":"hi"},"y":{"field":"count","type":"quantitative","scale":{"domain":[0,919]},"axis":null},"y2":{"value":0}}},
{"mark":{"type":"rect","fill":"transparent","stroke":"#262626","strokeWidth":1},
"encoding":{"x":{"field":"lo","type":"quantitative","scale":{"domain":[2.9254,3.0646]},"axis":{"orient":"bottom","zindex":1,"values":[2.94,2.96,2.98,3.02,3.04,3.06],"format":".2f","tickSize":-5,"labelPadding":9,"labelFontSize":14,"title":null}},"x2":{"field":"hi"},"y":{"field":"count","type":"quantitative","scale":{"domain":[0,919]},"axis":{"orient":"left","zindex":1,"offset":-277.1,"values":[200,400,600,800],"tickSize":-5,"labelPadding":11,"labelFontSize":14,"title":null}},"y2":{"datum":0}}},
{"mark":{"type":"point","opacity":0},
"encoding":{"x":{"field":"lo","type":"quantitative","scale":{"domain":[2.9254,3.0646]},"axis":{"orient":"bottom","zindex":1,"values":[2.93,2.935,2.945,2.95,2.955,2.965,2.97,2.975,2.985,2.99,2.995,3.005,3.01,3.015,3.025,3.03,3.035,3.045,3.05,3.055],"labels":false,"domain":false,"tickSize":-3,"title":null}},"y":{"field":"count","type":"quantitative","scale":{"domain":[0,919]},"axis":{"orient":"left","zindex":1,"offset":-277.1,"values":[50,100,150,250,300,350,450,500,550,650,700,750,850],"labels":false,"domain":false,"tickSize":-3,"title":null}}}}
],
"resolve":{"axis":{"x":"independent","y":"independent"}}},
{"hconcat":[
{"width":56,"height":10,"data":{"values":[]},"mark":{"type":"point","opacity":0}},
{"width":432,"height":433,
"title":{"text":"(d)","orient":"bottom","frame":"group","anchor":"middle","dx":-9,"offset":2},
"layer":[
{"data":{"name":"do"},"mark":{"type":"circle","size":24,"color":"#22ee22","opacity":1},
"encoding":{"x":{"field":"x","type":"quantitative","scale":{"domain":[-0.1226,0.1459]},"axis":{"orient":"bottom","zindex":1,"offset":-232.2,"values":[-0.1,-0.05,0.05,0.1],"format":".2f","tickSize":-5,"labelPadding":9,"labelFontSize":13,"title":"Tx","titleX":442,"titleY":0,"titleAlign":"left","titleBaseline":"middle","titleFontSize":13,"titleAngle":0}},
"y":{"field":"y","type":"quantitative","scale":{"domain":[-0.1321,0.1142]},"axis":{"orient":"left","zindex":1,"offset":-197.3,"values":[-0.1,-0.05,0.05,0.1],"format":".2f","tickSize":-5,"labelPadding":11,"labelFontSize":13,"title":"Ty","titleX":-2,"titleY":-8,"titleAngle":0,"titleAlign":"center","titleBaseline":"alphabetic","titleFontSize":13}}}},
{"data":{"name":"dm"},"mark":{"type":"circle","size":80,"color":"#22ee22","opacity":1},
"encoding":{"x":{"field":"x","type":"quantitative","scale":{"domain":[-0.1226,0.1459]},"axis":null},"y":{"field":"y","type":"quantitative","scale":{"domain":[-0.1321,0.1142]},"axis":null}}},
{"data":{"name":"dc"},"mark":{"type":"circle","size":300,"color":"#22ee22","opacity":1},
"encoding":{"x":{"field":"x","type":"quantitative","scale":{"domain":[-0.1226,0.1459]},"axis":null},"y":{"field":"y","type":"quantitative","scale":{"domain":[-0.1321,0.1142]},"axis":null}}},
{"data":{"name":"do"},"mark":{"type":"point","opacity":0},
"encoding":{"x":{"field":"x","type":"quantitative","scale":{"domain":[-0.1226,0.1459]},"axis":{"orient":"bottom","zindex":1,"offset":-232.2,"values":[-0.12,-0.11,-0.09,-0.08,-0.07,-0.06,-0.04,-0.03,-0.02,-0.01,0.01,0.02,0.03,0.04,0.06,0.07,0.08,0.09,0.11,0.12,0.13,0.14],"labels":false,"domain":false,"tickSize":-3,"title":null}},
"y":{"field":"y","type":"quantitative","scale":{"domain":[-0.1321,0.1142]},"axis":{"orient":"left","zindex":1,"offset":-197.3,"values":[-0.13,-0.12,-0.11,-0.09,-0.08,-0.07,-0.06,-0.04,-0.03,-0.02,-0.01,0.01,0.02,0.03,0.04,0.06,0.07,0.08,0.09,0.11],"labels":false,"domain":false,"tickSize":-3,"title":null}}}}
],
"resolve":{"axis":{"x":"independent","y":"independent"}}}
],"spacing":0,"bounds":"flush"}
],"spacing":116,"bounds":"flush"}
]
}
